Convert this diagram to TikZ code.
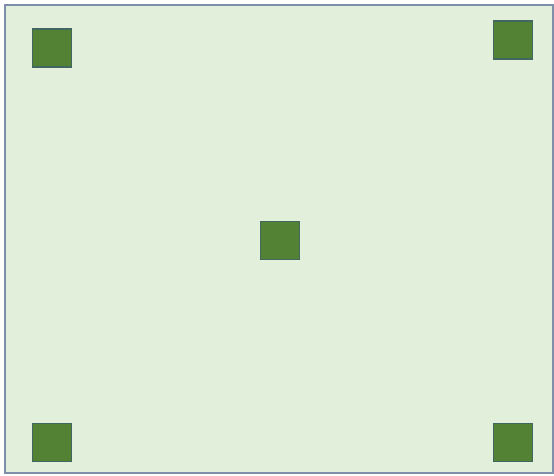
\documentclass[tikz,border=0pt]{standalone}
\definecolor{bgfill}{HTML}{E2EFDA}
\definecolor{frameline}{HTML}{7F8FA9}
\definecolor{sqfill}{HTML}{548235}
\definecolor{sqline}{HTML}{41675F}
\begin{document}
\begin{tikzpicture}[x=1pt,y=-1pt,
  sq/.style={draw=sqline,line width=1.2pt,fill=sqfill,minimum width=39pt,minimum height=38pt,inner sep=0pt,outer sep=0pt}]
\useasboundingbox (0,0) rectangle (554,475);
\node[draw=frameline,line width=2pt,fill=bgfill,minimum width=548pt,minimum height=468pt,inner sep=0pt] (frame) at (278.5,238.5) {};
\node[sq] (tl) at (52,48) {};
\node[sq] (tr) at (513,40) {};
\node[sq] (c) at (280,240.5) {};
\node[sq] (bl) at (52.3,442.7) {};
\node[sq] (br) at (513,442.7) {};
\end{tikzpicture}
\end{document}
